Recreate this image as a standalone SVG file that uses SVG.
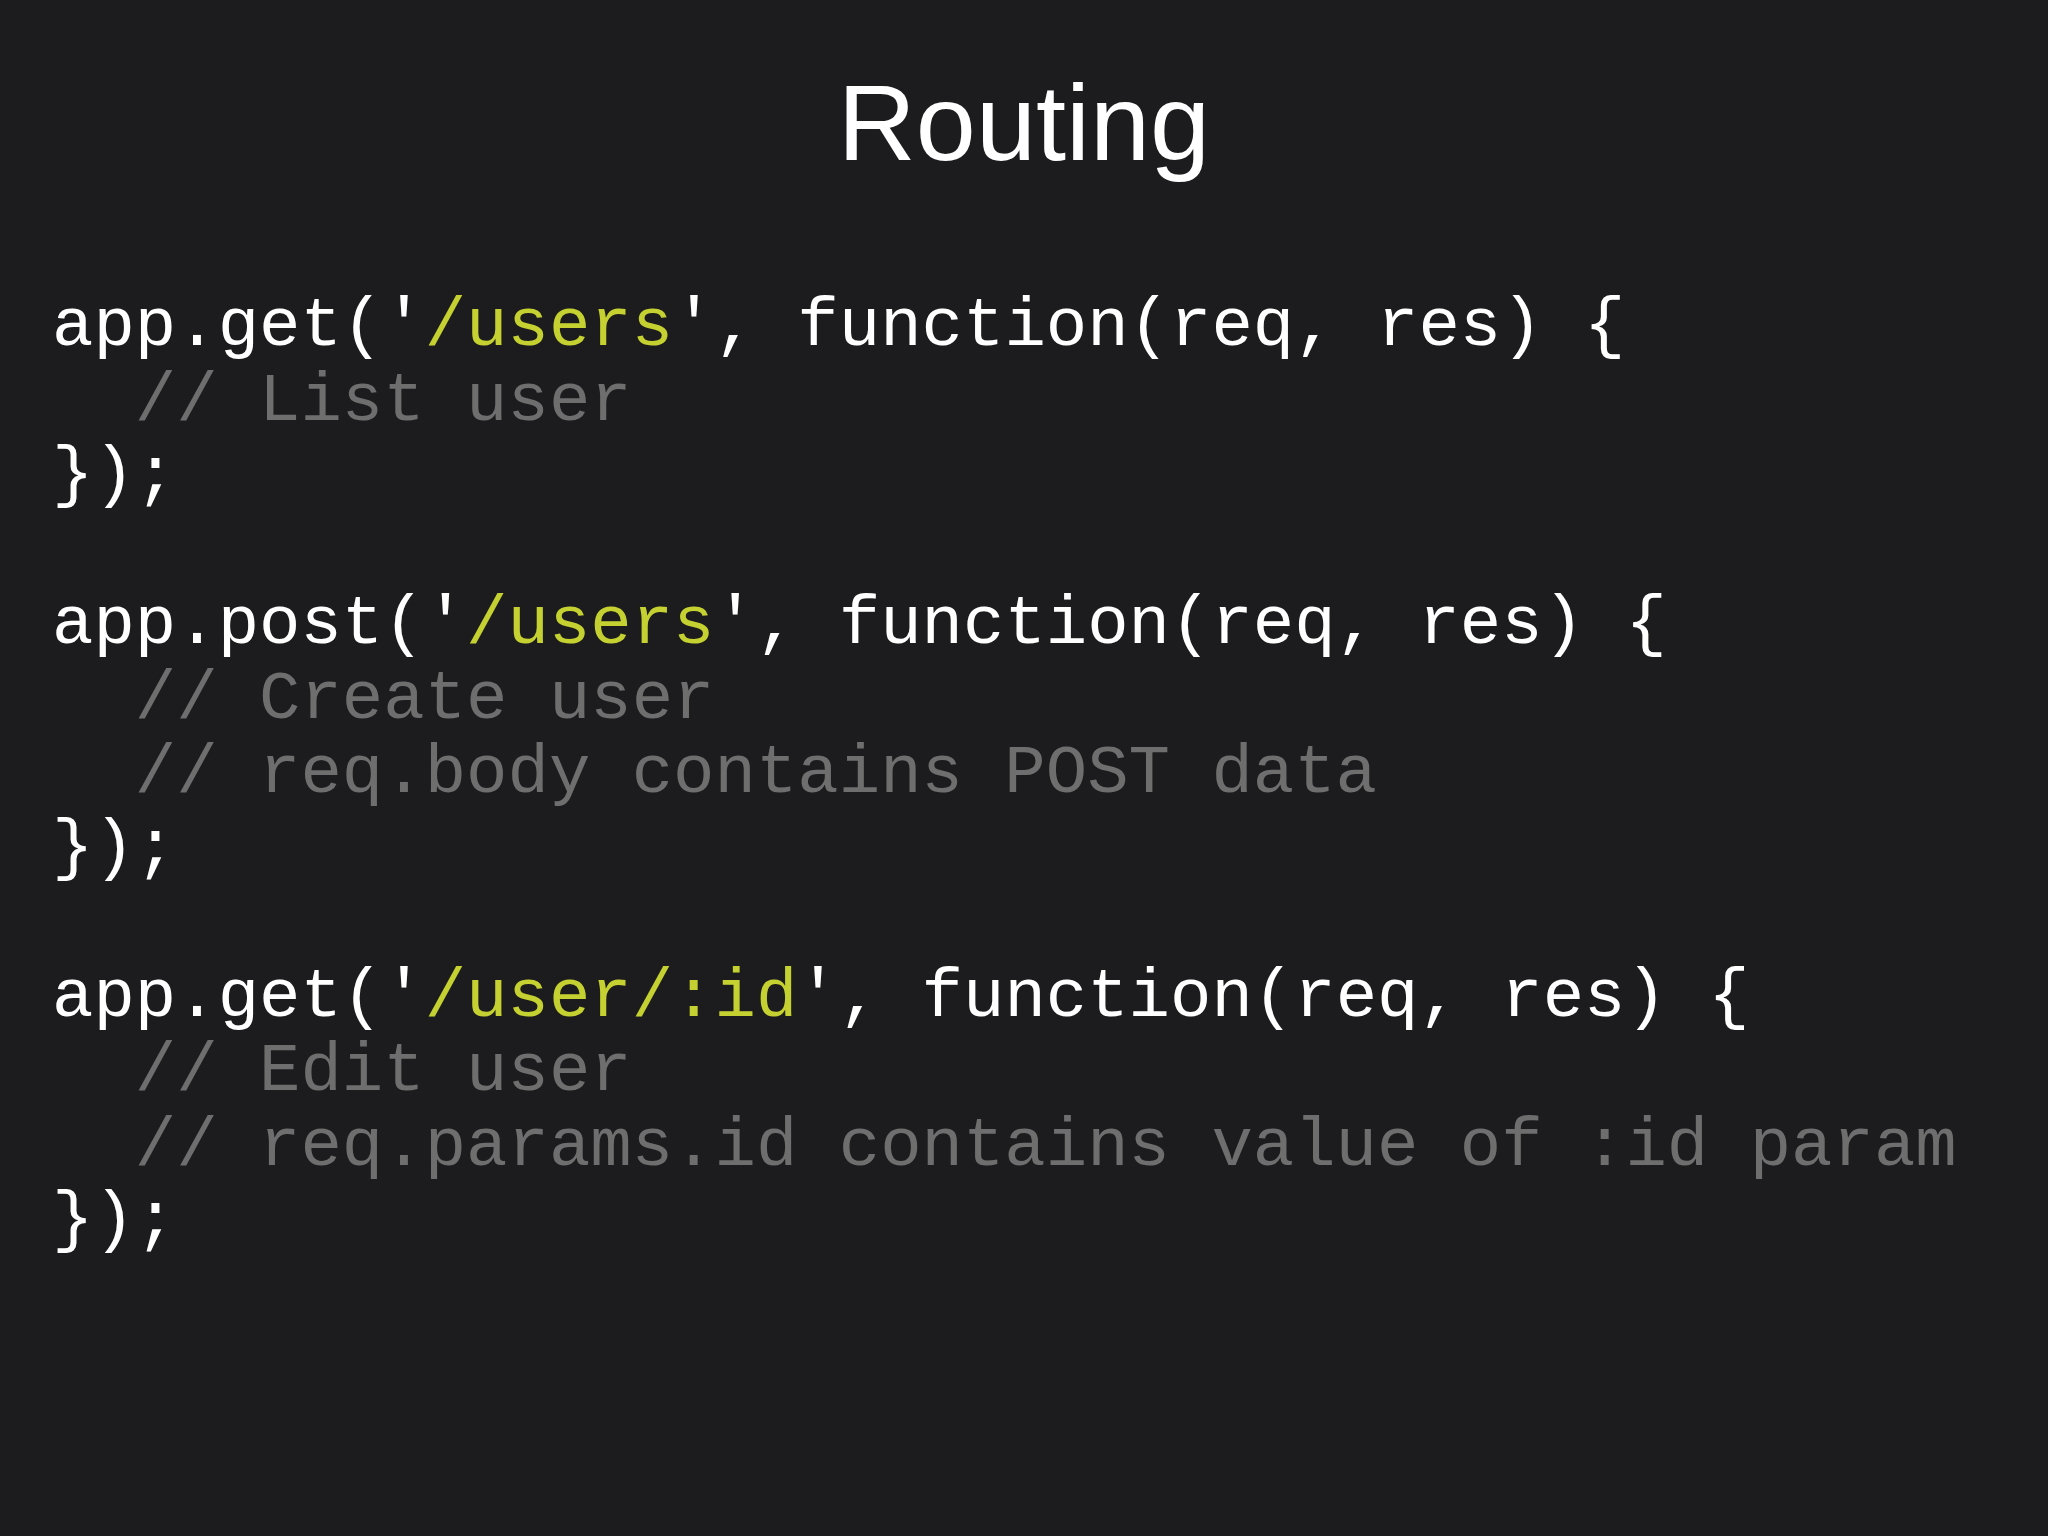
<svg xmlns="http://www.w3.org/2000/svg" width="2048" height="1536" viewBox="0 0 2048 1536">
<style>
.c{font-family:"Courier New","Nimbus Mono PS","Liberation Mono",monospace;font-size:69px;fill:#ffffff;white-space:pre}
.s{fill:#c5d130}
.m{fill:#6e6e6e}
.t{font-family:"Liberation Sans",Arial,sans-serif;font-size:108px;fill:#ffffff}
</style>
<rect width="2048" height="1536" fill="#1c1c1e"/>
<text class="t" x="1024" y="160" text-anchor="middle">Routing</text>
<g id="code">
<text class="c" x="52" y="345" xml:space="preserve">app.get('<tspan class="s">/users</tspan>', function(req, res) {</text>
<text class="c m" x="52" y="419.5" xml:space="preserve">  // List user</text>
<text class="c" x="52" y="494" xml:space="preserve">});</text>
<text class="c" x="52" y="643" xml:space="preserve">app.post('<tspan class="s">/users</tspan>', function(req, res) {</text>
<text class="c m" x="52" y="717.5" xml:space="preserve">  // Create user</text>
<text class="c m" x="52" y="792" xml:space="preserve">  // req.body contains POST data</text>
<text class="c" x="52" y="866.5" xml:space="preserve">});</text>
<text class="c" x="52" y="1015.5" xml:space="preserve">app.get('<tspan class="s">/user/:id</tspan>', function(req, res) {</text>
<text class="c m" x="52" y="1090" xml:space="preserve">  // Edit user</text>
<text class="c m" x="52" y="1164.5" xml:space="preserve">  // req.params.id contains value of :id param</text>
<text class="c" x="52" y="1239" xml:space="preserve">});</text>
</g>
</svg>
